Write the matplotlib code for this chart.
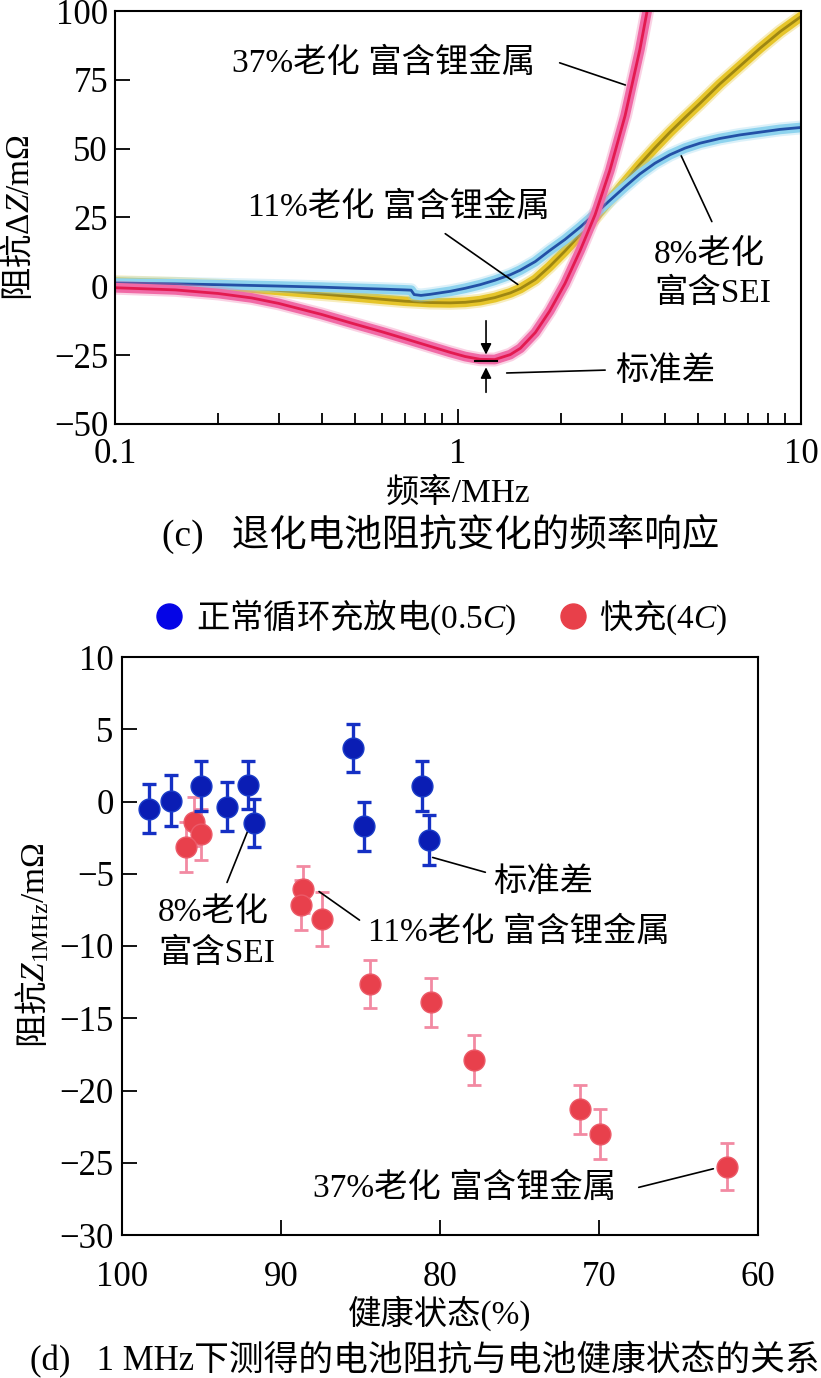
import numpy as np
import matplotlib
matplotlib.use('Agg')
import matplotlib.pyplot as plt
from matplotlib.lines import Line2D

plt.rcParams['font.family'] = ['Liberation Serif', 'Noto Sans CJK SC']
plt.rcParams['mathtext.fontset'] = 'custom'
plt.rcParams['mathtext.rm'] = 'Liberation Serif'
plt.rcParams['mathtext.it'] = 'Liberation Serif:italic'
plt.rcParams['axes.unicode_minus'] = True

# ---- (c) frequency response data ----
f_red = [0.1, 0.15, 0.2, 0.25, 0.3, 0.4, 0.5, 0.6, 0.7, 0.83, 0.95, 1.05, 1.16, 1.28,
         1.42, 1.52, 1.68, 1.85, 2.05, 2.27, 2.51, 2.77, 3.07, 3.39, 3.56]
z_red = [-0.5, -1.3, -2.6, -4.2, -6.2, -10.2, -13.7, -16.5, -19.0, -21.8, -24.0, -25.5,
         -26.5, -26.6, -24.8, -22.5, -16.8, -9.0, 1.0, 13.0, 26.0, 42.0, 62.0, 86.0, 100.0]

f_yel = [0.1, 0.15, 0.2, 0.25, 0.3, 0.4, 0.5, 0.6, 0.7, 0.83, 0.95, 1.05, 1.16, 1.28,
         1.42, 1.52, 1.68, 1.85, 2.05, 2.27, 2.51, 2.77, 3.07, 3.39, 3.75, 4.15, 4.59,
         5.08, 5.8, 6.64, 7.6, 8.69, 10]
z_yel = [1.5, 0.9, 0.2, -0.6, -1.5, -2.8, -3.8, -4.7, -5.4, -5.9, -6.0, -5.8, -5.2, -4.1,
         -2.4, -0.8, 2.5, 7.2, 12.8, 18.8, 25.0, 31.4, 38.0, 44.3, 50.3, 56.0, 61.3,
         66.5, 73.5, 80.0, 86.5, 92.5, 98.0]

f_blu = [0.1, 0.15, 0.2, 0.3, 0.4, 0.5, 0.6, 0.7, 0.73, 0.745, 0.78, 0.83, 0.95, 1.05,
         1.16, 1.28, 1.42, 1.52, 1.68, 1.85, 2.05, 2.27, 2.51, 2.77, 3.07, 3.39, 3.75,
         4.15, 4.59, 5.08, 5.8, 6.64, 7.6, 8.69, 10]
z_blu = [1.2, 0.9, 0.6, 0.1, -0.3, -0.7, -1.0, -1.3, -1.4, -3.0, -3.3, -2.9, -1.8, -0.7,
         0.6, 2.2, 4.2, 5.9, 9.0, 13.0, 17.0, 21.5, 26.3, 31.2, 36.2, 40.8, 44.7,
         47.8, 50.2, 52.0, 53.7, 55.0, 56.0, 57.0, 57.7]

# ---- (d) impedance at 1 MHz vs SOH ----
soh_blue = [98.3, 96.9, 95.05, 93.4, 92.1, 91.7, 85.5, 84.8, 81.15, 80.7]
z_blue = [-0.5, 0.05, 1.07, -0.36, 1.14, -1.51, 3.68, -1.70, 1.07, -2.66]
err_blue = [1.7, 1.75, 1.7, 1.7, 1.65, 1.65, 1.67, 1.7, 1.7, 1.72]

soh_red = [95.5, 95.0, 95.95, 88.6, 88.75, 87.45, 84.4, 80.55, 77.85, 71.2, 69.95, 61.95]
z_red1 = [-1.4, -2.27, -3.13, -6.08, -7.16, -8.13, -12.65, -13.9, -17.9, -21.3, -23.0, -25.27]
err_red = [1.7, 1.75, 1.73, 1.65, 1.73, 1.85, 1.65, 1.7, 1.73, 1.7, 1.75, 1.65]

W, H = 821, 1378
fig = plt.figure(figsize=(W/100, H/100), dpi=100)
cjk = ['Liberation Serif', 'Noto Sans CJK SC']
FS = 24
TFS = 25

#%% panel c
ax1 = fig.add_axes([115/W, 1-424/H, 686/W, 413/H])
for f, z, band, core in [(f_yel, z_yel, '#E6C52A', '#9E8612'),
                         (f_blu, z_blu, '#8ED3EE', '#2350A6'),
                         (f_red, z_red, '#F06AA6', '#E31A50')]:
    ax1.plot(f, z, color=band, lw=10, alpha=0.3, solid_capstyle='round', solid_joinstyle='round')
    ax1.plot(f, z, color=band, lw=7, solid_capstyle='round', solid_joinstyle='round')
    ax1.plot(f, z, color=core, lw=2.0, solid_joinstyle='round')
ax1.set_xscale('log')
ax1.set_xlim(0.1, 10)
ax1.set_ylim(-50, 100)
ax1.set_yticks([-50, -25, 0, 25, 50, 75, 100])
ax1.set_xticks([0.1, 1, 10])
ax1.set_xticklabels(['0.1', '1', '10'])
ax1.tick_params(which='major', direction='in', length=11, width=1.3, labelsize=TFS,
                top=False, right=False)
ax1.tick_params(axis='x', pad=10)
ax1.tick_params(axis='y', pad=5)
ax1.tick_params(which='minor', direction='in', length=8, width=1.3, top=False, right=False)
ax1.yaxis.set_minor_locator(plt.NullLocator())
for s in ax1.spines.values():
    s.set_linewidth(1.5)

line_kw = dict(arrowprops=dict(arrowstyle='-', color='k', lw=1.2))
ax1.text(0.219, 81.1, '37%老化 富含锂金属', fontsize=FS, family=cjk, va='center', ha='left')
ax1.annotate('', xy=(3.13, 72.8), xytext=(1.944, 81.5), **line_kw)
ax1.text(0.244, 28.8, '11%老化 富含锂金属', fontsize=FS, family=cjk, va='center', ha='left')
ax1.annotate('', xy=(1.517, 0.1), xytext=(0.904, 19.7), **line_kw)
ax1.text(3.73, 11.4, '8%老化', fontsize=FS, family=cjk, va='center', ha='left')
ax1.text(3.73, -2.4, '富含SEI', fontsize=FS, family=cjk, va='center', ha='left')
ax1.annotate('', xy=(4.44, 48.3), xytext=(5.54, 22.6), **line_kw)
ax1.text(2.87, -31.1, '标准差', fontsize=FS, family=cjk, va='center', ha='left')
ax1.annotate('', xy=(1.361, -31.5), xytext=(2.736, -30.4), **line_kw)
ax1.annotate('', xy=(1.207, -25.8), xytext=(1.207, -11.5),
             arrowprops=dict(arrowstyle='-|>', color='k', lw=1.2, mutation_scale=16))
ax1.annotate('', xy=(1.207, -28.4), xytext=(1.207, -39.5),
             arrowprops=dict(arrowstyle='-|>', color='k', lw=1.2, mutation_scale=16))
ax1.plot([1.121, 1.299], [-27.1, -27.1], color='k', lw=1.5)

fig.text(19/W, 1-217/H, '阻抗$\\Delta Z/\\mathrm{m}\\Omega$', rotation=90, fontsize=FS,
         family=['Noto Sans CJK SC'], ha='center', va='center')
fig.text(458/W, 1-493/H, '频率/MHz', fontsize=FS, family=cjk, ha='center', va='center')
fig.text(441/W, 1-535/H, '(c)   退化电池阻抗变化的频率响应', fontsize=27, family=cjk,
         ha='center', va='center')

#%% panel d
ax2 = fig.add_axes([122/W, 1-1235/H, 636/W, 578/H])
ax2.errorbar(soh_red, z_red1, yerr=err_red, fmt='o', ms=15, mfc='#E8404C', mec='#EC5A68',
             ecolor='#F28AA2', elinewidth=2, capsize=5, capthick=2, zorder=2)
ax2.errorbar(soh_blue, z_blue, yerr=err_blue, fmt='o', ms=15, mfc='#0A1DB4', mec='#1A3CC8',
             ecolor='#1530C4', elinewidth=2.4, capsize=5, capthick=2.4, zorder=3)
ax2.set_xlim(100, 60)
ax2.set_ylim(-30, 10)
ax2.set_xticks([100, 90, 80, 70, 60])
ax2.set_yticks(np.arange(-30, 11, 5))
ax2.tick_params(direction='in', length=11, width=1.3, labelsize=TFS, top=False, right=False)
ax2.tick_params(axis='x', pad=19)
ax2.tick_params(axis='y', pad=6)
for s in ax2.spines.values():
    s.set_linewidth(1.5)

ax2.text(97.74, -7.71, '8%老化', fontsize=FS, family=cjk, va='center', ha='left')
ax2.text(97.74, -10.48, '富含SEI', fontsize=FS, family=cjk, va='center', ha='left')
ax2.annotate('', xy=(91.89, -1.49), xytext=(93.46, -5.78), **line_kw)
ax2.text(84.53, -9.03, '11%老化 富含锂金属', fontsize=FS, family=cjk, va='center', ha='left')
ax2.annotate('', xy=(87.75, -6.12), xytext=(84.92, -8.32), **line_kw)
ax2.text(76.67, -5.64, '标准差', fontsize=FS, family=cjk, va='center', ha='left')
ax2.annotate('', xy=(80.63, -3.82), xytext=(76.98, -4.95), **line_kw)
ax2.text(87.99, -26.75, '37%老化 富含锂金属', fontsize=FS, family=cjk, va='center', ha='left')
ax2.annotate('', xy=(62.64, -25.37), xytext=(67.67, -26.75), **line_kw)

handles = [Line2D([], [], marker='o', ls='', color='#0505E6', ms=18),
           Line2D([], [], marker='o', ls='', color='#E8404A', ms=18)]
fig.legend(handles, ['正常循环充放电$(0.5C)$', '快充$(4C)$'], loc='center',
           bbox_to_anchor=(440/W, 1-617/H), ncol=2, frameon=False, handletextpad=0.3,
           columnspacing=1.2, handlelength=1.0, prop={'family': ['Noto Sans CJK SC'], 'size': FS})

fig.text(33/W, 1-945/H, '阻抗$Z_{\\mathrm{1MHz}}/\\mathrm{m}\\Omega$', rotation=90, fontsize=FS,
         family=['Noto Sans CJK SC'], ha='center', va='center')
fig.text(440/W, 1-1313/H, '健康状态(%)', fontsize=FS, family=cjk, ha='center', va='center')
fig.text(425/W, 1-1360/H, '(d)   1 MHz下测得的电池阻抗与电池健康状态的关系', fontsize=25,
         family=cjk, ha='center', va='center')

fig.savefig('out.png', dpi=100)
